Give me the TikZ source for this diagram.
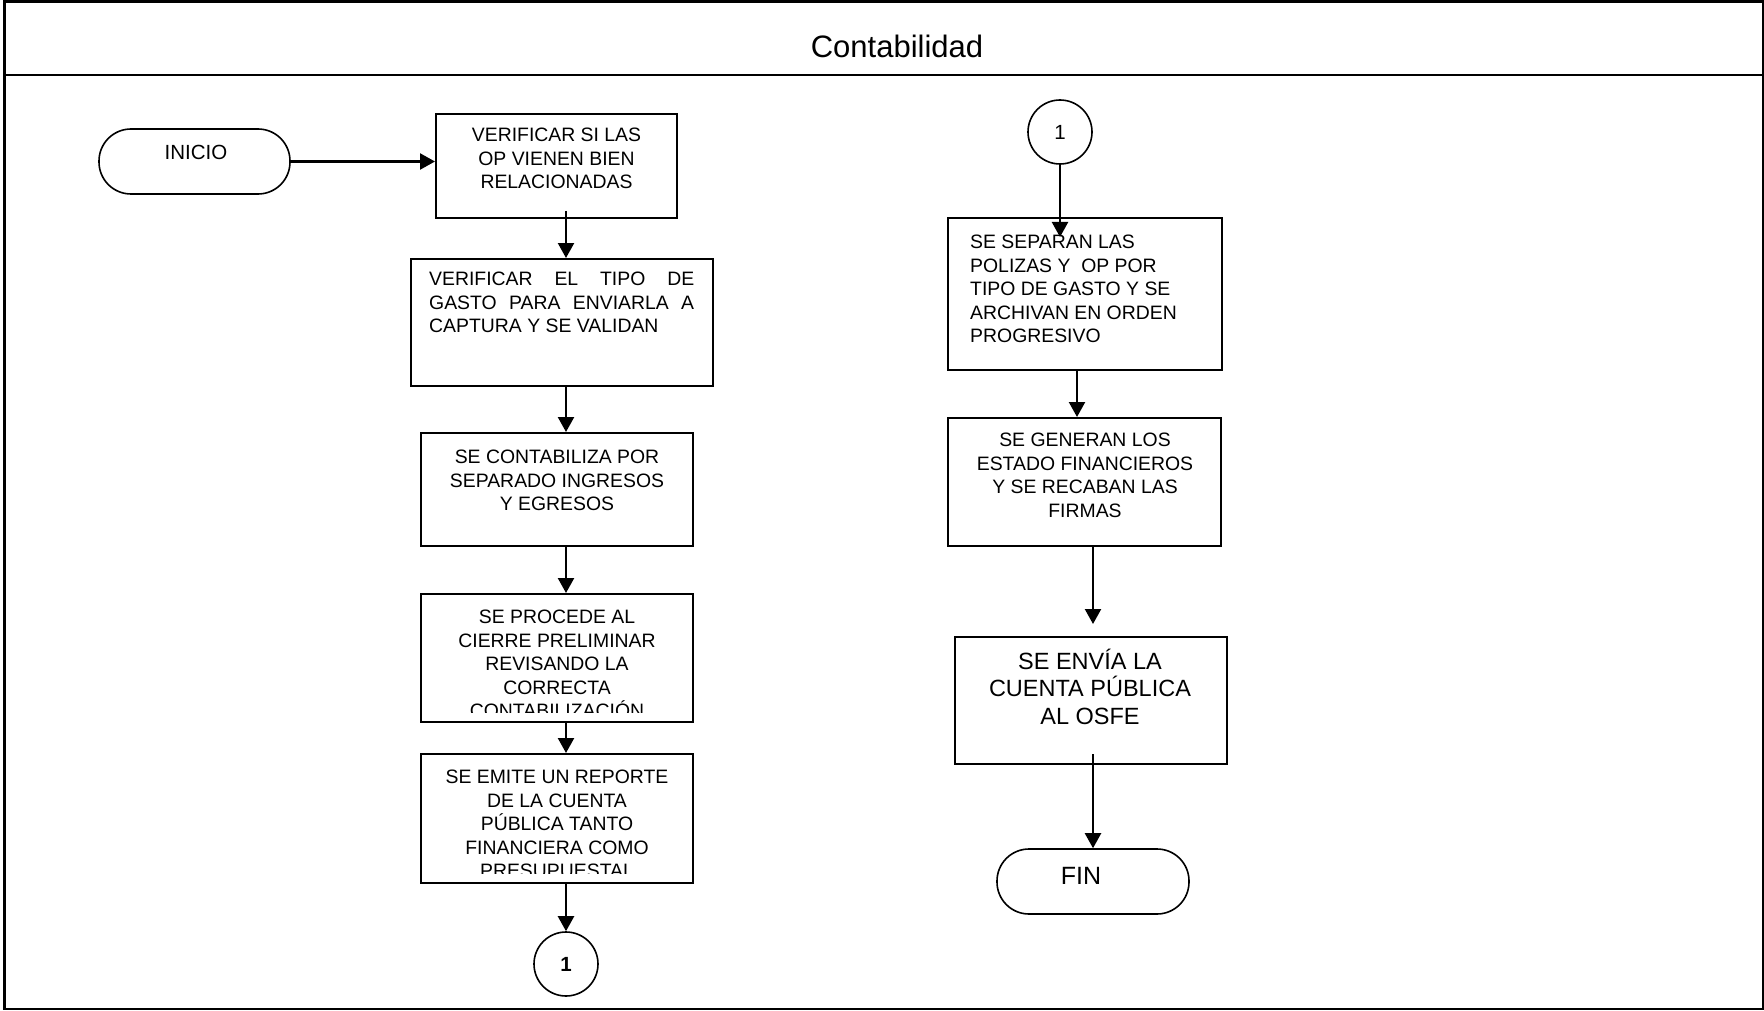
\documentclass[tikz,border=0pt]{standalone}
\usepackage{fontspec}
\setmainfont{Liberation Sans}
\usetikzlibrary{arrows.meta,calc}
\tikzset{
  boxshape/.style={draw, line width=2pt, rectangle, inner sep=0pt},
  term/.style={draw, line width=1.6pt, rounded corners=32pt, inner sep=0pt},
  txt/.style={inner sep=0pt, font=\fontsize{19.4}{23.5}\selectfont, align=center, anchor=north},
  ltxt/.style={inner sep=0pt, font=\fontsize{19.4}{23.5}\selectfont, align=left, anchor=north west},
  arr/.style={line width=2.3pt, -{Triangle[length=15pt,width=16pt]}},
  conn/.style={draw, circle, line width=1.6pt, minimum size=64pt, inner sep=0pt, font=\fontsize{20.5}{24}\selectfont},
  frameline/.style={line width=2.5pt}
}
\begin{document}
\begin{tikzpicture}[x=1pt,y=-1pt]
\useasboundingbox (0,0) rectangle (1764,1011);
% frame
\draw[frameline] (4.5,1.5) rectangle (1763,1009);
\draw[frameline] (4.5,75) -- (1763,75);
\node[anchor=base, inner sep=0pt, font=\fontsize{31}{35}\selectfont] (title) at (897,58) {Contabilidad};

% left column shapes
\node[term, minimum width=191pt, minimum height=65pt] (ini) at (194.5,161.5) {};
\node[inner sep=0pt, font=\fontsize{20.5}{24}\selectfont] (initxt) at (196,152) {INICIO};
\node[boxshape, minimum width=241pt, minimum height=104pt] (b1) at (556.5,166) {};
\node[boxshape, minimum width=302pt, minimum height=127pt] (b2) at (562,322.5) {};
\node[boxshape, minimum width=272pt, minimum height=113pt] (b3) at (557,489.5) {};
\node[boxshape, minimum width=272pt, minimum height=128pt] (b4) at (557,658) {};
\node[boxshape, minimum width=272pt, minimum height=129pt] (b5) at (557,818.5) {};
\node[conn, font=\fontsize{20.5}{24}\selectfont\bfseries] (c1) at (566,964) {1};

% left texts
\node[txt] (t1) at (556.5,128) {VERIFICAR SI LAS\\OP VIENEN BIEN\\RELACIONADAS};
\node[ltxt] (t2) at (429,272) {\makebox[265pt][s]{VERIFICAR EL TIPO DE}\\\makebox[265pt][s]{GASTO PARA ENVIARLA A}\\CAPTURA Y SE VALIDAN};
\node[txt] (t3) at (557,450) {SE CONTABILIZA POR\\SEPARADO INGRESOS\\Y EGRESOS};
\begin{scope}
\clip ($(b4.north west)$) rectangle ($(b4.south east)+(0,-11)$);
\node[txt] (t4) at (557,610) {SE PROCEDE AL\\CIERRE PRELIMINAR\\REVISANDO LA\\CORRECTA\\CONTABILIZACIÓN};
\end{scope}
\begin{scope}
\clip ($(b5.north west)$) rectangle ($(b5.south east)+(0,-11)$);
\node[txt] (t5) at (557,770) {SE EMITE UN REPORTE\\DE LA CUENTA\\PÚBLICA TANTO\\FINANCIERA COMO\\PRESUPUESTAL};
\end{scope}

% right column shapes
\node[conn] (c2) at (1060,132) {1};
\node[boxshape, minimum width=274pt, minimum height=152pt] (b6) at (1085,294) {};
\node[boxshape, minimum width=273pt, minimum height=128pt] (b7) at (1084.5,482) {};
\node[boxshape, minimum width=272pt, minimum height=127pt] (b8) at (1091,700.5) {};
\node[term, minimum width=192pt, minimum height=65pt] (fin) at (1093,881.5) {};
\node[inner sep=0pt, font=\fontsize{25}{29}\selectfont] (fintxt) at (1081,876) {FIN};

% right texts
\node[ltxt] (t6) at (970,235) {SE SEPARAN LAS\\POLIZAS Y \ OP POR\\TIPO DE GASTO Y SE\\ARCHIVAN EN ORDEN\\PROGRESIVO};
\node[txt] (t7) at (1085,433) {SE GENERAN LOS\\ESTADO FINANCIEROS\\Y SE RECABAN LAS\\FIRMAS};
\node[txt, font=\fontsize{23.5}{27.5}\selectfont] (t8) at (1090,648.5) {SE ENVÍA LA\\CUENTA PÚBLICA\\AL OSFE};

% connectors
\draw[arr] (ini.east) -- (b1.west |- ini.east);
\draw[arr] ($(b1.south -| c1)+(0,-8)$) -- (b2.north -| c1);
\draw[arr] (b2.south -| c1) -- (b3.north -| c1);
\draw[arr] (b3.south -| c1) -- (b4.north -| c1);
\draw[arr] (b4.south -| c1) -- (b5.north -| c1);
\draw[arr] (b5.south -| c1) -- (c1.north);

\draw[arr] (c2.south) -- ($(b6.north -| c2)+(0,20)$);
\draw[arr] ($(b6.south)+(-8,0)$) -- ($(b7.north)+(-7.5,0)$);
\draw[arr] ($(b7.south)+(8.5,0)$) -- ($(b8.north)+(2,-12)$);
\draw[arr] ($(b8.south)+(2,-11)$) -- (fin.north);
\end{tikzpicture}
\end{document}
